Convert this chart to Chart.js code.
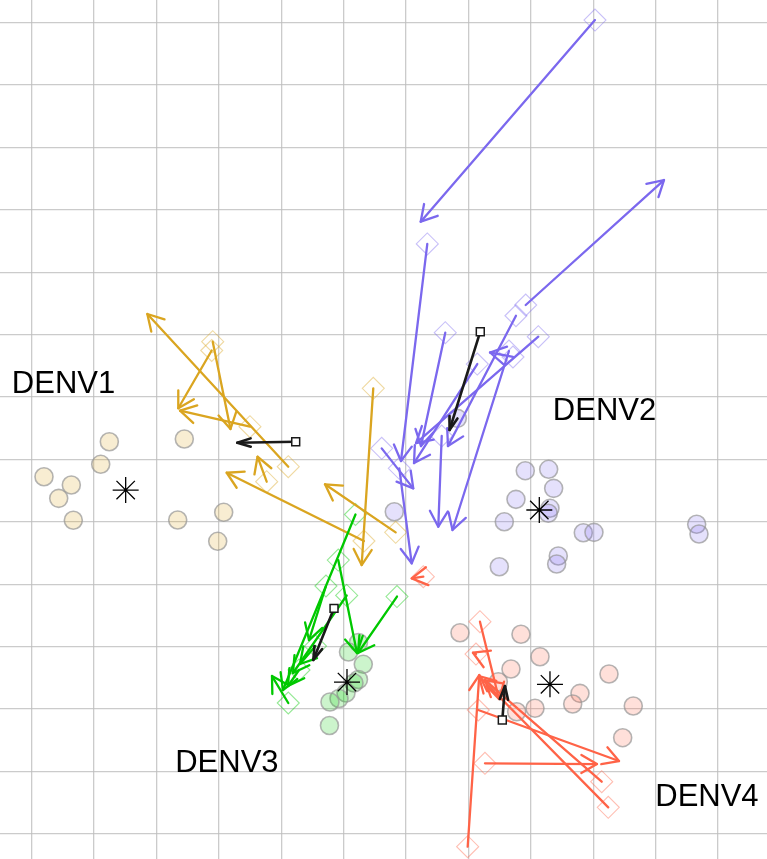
<!DOCTYPE html>
<html>
<head>
<meta charset="utf-8">
<script src="https://cdn.jsdelivr.net/npm/chart.js@4.4.1/dist/chart.umd.min.js"></script>
<style>
  html, body { margin: 0; padding: 0; background: #ffffff; }
  canvas { display: block; }
</style>
</head>
<body>
<canvas id="map" width="767" height="859"></canvas>
<script>
// ---- Antigenic map coordinates (antigenic units) ----
const serotypes = ['DENV1', 'DENV2', 'DENV3', 'DENV4'];

// Reference viruses
const d1Points = [[1.244,6.285],[2.446,6.329],[1.106,5.923],[0.197,5.724],[0.635,5.591],[0.433,5.378],[0.667,5.026],[2.340,5.030],[3.077,5.154],[2.981,4.689]];
const d2Points = [[6.821,6.660],[5.811,5.163],[7.910,5.821],[8.285,5.843],[8.365,5.538],[7.761,5.362],[8.306,5.218],[8.279,5.138],[7.574,5.003],[7.494,4.282],[8.439,4.454],[8.413,4.325],[8.840,4.827],[9.011,4.833],[10.657,4.962],[10.694,4.806]];
const d3Points = [[5.237,3.067],[5.077,2.915],[5.314,2.718],[5.237,2.474],[5.165,2.418],[5.037,2.258],[4.925,2.170],[4.780,2.114],[4.772,1.737]];
const d4Points = [[6.864,3.224],[7.841,3.199],[8.146,2.840],[7.681,2.643],[7.478,2.439],[9.252,2.563],[8.787,2.253],[8.670,2.082],[8.066,2.013],[7.772,1.958],[9.641,2.050],[9.471,1.542]];

// Sera: early position (diamond) and later position (arrow tip)
const d1From = [[2.885,7.747],[2.901,7.888],[4.112,5.885],[3.498,6.526],[3.766,5.644],[5.325,4.694],[5.474,7.141],[5.833,4.833]];
const d1To   = [[2.349,6.821],[3.186,6.489],[1.853,8.332],[2.377,6.782],[3.619,6.045],[3.125,5.788],[5.288,4.309],[4.700,5.603]];
const d2From = [[9.027,13.043],[6.340,9.454],[7.917,8.476],[7.761,8.304],[6.628,8.032],[8.119,7.968],[7.649,7.739],[7.713,7.643],[7.141,7.530],[6.571,6.377],[5.609,6.179],[5.891,5.859]];
const d2To   = [[6.234,9.811],[5.918,5.976],[10.133,10.479],[6.671,6.216],[6.239,6.216],[6.159,6.264],[6.744,4.870],[7.345,7.715],[6.127,5.944],[6.516,4.923],[6.115,5.538],[6.090,4.337]];
const d3From = [[5.189,5.119],[4.913,4.389],[4.716,3.973],[5.048,3.821],[5.854,3.804],[4.548,3.011],[4.284,2.627],[4.112,2.098]];
const d3To   = [[4.027,2.306],[5.213,2.899],[4.444,3.107],[4.188,2.579],[5.229,2.899],[4.300,2.723],[4.107,2.370],[3.851,2.530]];
const d4From = [[7.184,3.401],[7.120,2.883],[7.157,1.986],[7.264,1.131],[9.135,0.837],[9.240,0.426],[6.987,-0.205],[6.276,4.122]];
const d4To   = [[7.489,2.162],[7.072,2.904],[9.412,1.168],[9.059,1.120],[7.264,2.466],[7.168,2.530],[7.173,2.546],[6.090,4.096]];

// Serotype centroids and mean serum shift
const centres  = [[1.506,5.511],[8.135,5.191],[5.053,2.434],[8.306,2.397]];
const meanFrom = [[4.231,6.285],[7.189,8.048],[4.845,3.615],[7.542,1.825]];
const meanTo   = [[3.295,6.269],[6.696,6.473],[4.513,2.787],[7.585,2.370]];

// Serotype name anchors
const labelAt = [[-0.318,7.061],[8.352,6.633],[2.300,0.992],[9.993,0.447]];

// Grid lines every antigenic unit
const xGrid = [0,1,2,3,4,5,6,7,8,9,10,11];
const yGrid = [0,1,2,3,4,5,6,7,8,9,10,11,12,13];

// ---- styling ----
const palette = [
  [218,165,32],   // goldenrod
  [123,104,238],  // medium slate blue
  [0,200,0],      // green
  [255,99,71]     // tomato
];
const rgba = (c, a) => `rgba(${c[0]},${c[1]},${c[2]},${a})`;
const toXY = arr => arr.map(p => ({x: p[0], y: p[1]}));

const pointSets = [d1Points, d2Points, d3Points, d4Points];
const fromSets  = [d1From, d2From, d3From, d4From];
const toSets    = [d1To, d2To, d3To, d4To];

const datasets = [];
pointSets.forEach((pts, i) => datasets.push({
  label: serotypes[i] + ' viruses',
  data: toXY(pts),
  order: 20 + i,
  pointStyle: 'circle',
  pointRadius: 9,
  backgroundColor: rgba(palette[i], 0.2),
  borderColor: 'rgba(150,150,150,0.7)',
  borderWidth: 1.6
}));
fromSets.forEach((pts, i) => datasets.push({
  label: serotypes[i] + ' sera',
  data: toXY(pts),
  order: 10 + i,
  arrowsAfter: i === 0,
  pointStyle: 'rectRot',
  pointRadius: 11,
  backgroundColor: 'rgba(0,0,0,0)',
  borderColor: rgba(palette[i], 0.42),
  borderWidth: 1.1
}));
datasets.push({
  label: 'mean start',
  data: toXY(meanFrom),
  order: 2,
  pointStyle: 'rect',
  pointRadius: 5.6,
  backgroundColor: '#ffffff',
  borderColor: '#1a1a1a',
  borderWidth: 1.5
});
datasets.push({
  label: 'centroids',
  data: toXY(centres),
  order: 1,
  pointStyle: 'star',
  pointRadius: 13,
  backgroundColor: '#000000',
  borderColor: '#000000',
  borderWidth: 1.3
});

function arrow(ctx, x1, y1, x2, y2, color, width, len, spread) {
  const ang = Math.atan2(y2 - y1, x2 - x1);
  ctx.strokeStyle = color;
  ctx.lineWidth = width;
  ctx.lineCap = 'round';
  ctx.lineJoin = 'round';
  ctx.beginPath();
  ctx.moveTo(x1, y1);
  ctx.lineTo(x2, y2);
  ctx.stroke();
  ctx.beginPath();
  ctx.moveTo(x2 - len * Math.cos(ang - spread), y2 - len * Math.sin(ang - spread));
  ctx.lineTo(x2, y2);
  ctx.lineTo(x2 - len * Math.cos(ang + spread), y2 - len * Math.sin(ang + spread));
  ctx.stroke();
}

const shiftArrows = {
  id: 'shiftArrows',
  afterDatasetDraw(chart, args) {
    if (!chart.data.datasets[args.index].arrowsAfter) return;
    const {ctx, scales: {x, y}} = chart;
    ctx.save();
    fromSets.forEach((from, g) => {
      from.forEach((p, k) => {
        const q = toSets[g][k];
        arrow(ctx, x.getPixelForValue(p[0]), y.getPixelForValue(p[1]),
              x.getPixelForValue(q[0]), y.getPixelForValue(q[1]),
              rgba(palette[g], 1), 2.3, 18, Math.PI / 6);
      });
    });
    meanFrom.forEach((p, g) => {
      const q = meanTo[g];
      arrow(ctx, x.getPixelForValue(p[0]), y.getPixelForValue(p[1]),
            x.getPixelForValue(q[0]), y.getPixelForValue(q[1]),
            '#1a1a1a', 2.6, 14, 0.3);
    });
    ctx.restore();
  },
  afterDraw(chart) {
    const {ctx, scales: {x, y}} = chart;
    ctx.save();
    ctx.font = '31px "Liberation Sans", Arial, sans-serif';
    ctx.fillStyle = '#000000';
    ctx.textAlign = 'left';
    ctx.textBaseline = 'alphabetic';
    serotypes.forEach((name, i) => {
      ctx.fillText(name, x.getPixelForValue(labelAt[i][0]), y.getPixelForValue(labelAt[i][1]));
    });
    ctx.restore();
  }
};

const gridAxis = (min, max, values) => ({
  type: 'linear',
  min, max,
  afterBuildTicks: axis => { axis.ticks = values.map(v => ({value: v})); },
  ticks: {display: false},
  border: {display: false},
  grid: {color: 'rgba(190,190,190,0.8)', lineWidth: 1.3, drawTicks: false}
});

new Chart(document.getElementById('map'), {
  type: 'scatter',
  data: {datasets},
  options: {
    responsive: false,
    animation: false,
    events: [],
    layout: {padding: 0, autoPadding: false},
    plugins: {legend: {display: false}, tooltip: {enabled: false}},
    scales: {
      x: gridAxis(-0.508, 11.784, xGrid),
      y: gridAxis(-0.402, 13.364, yGrid)
    }
  },
  plugins: [shiftArrows]
});
</script>
</body>
</html>
